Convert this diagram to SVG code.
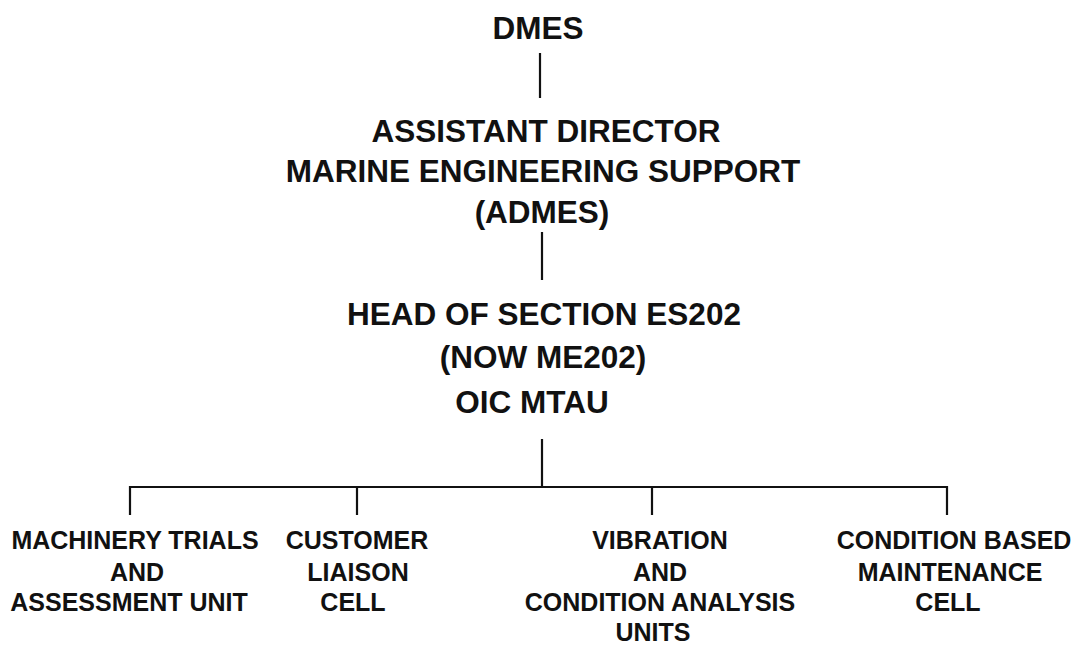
<svg xmlns="http://www.w3.org/2000/svg" width="1085" height="648" viewBox="0 0 1085 648">
<style>
.t{font-family:"Liberation Sans",Arial,sans-serif;font-weight:bold;fill:#111;text-anchor:middle}
.top{font-size:31.5px}
.bot{font-size:25px}
.c{stroke:#111;stroke-width:2.2;fill:none}
</style>
<rect width="1085" height="648" fill="#fff"/>
<g id="connectors">
<line class="c" x1="540" y1="53" x2="540" y2="98"/>
<line class="c" x1="542" y1="232" x2="542" y2="280"/>
<line class="c" x1="542" y1="439" x2="542" y2="487"/>
<polyline class="c" points="130,515 130,487 947,487 947,515"/>
<line class="c" x1="357" y1="487" x2="357" y2="515"/>
<line class="c" x1="652" y1="487" x2="652" y2="515"/>
</g>
<g id="dmes"><text class="t top" x="538" y="39">DMES</text></g>
<g id="admes">
<text class="t top" x="546" y="142">ASSISTANT DIRECTOR</text>
<text class="t top" x="543" y="182">MARINE ENGINEERING SUPPORT</text>
<text class="t top" x="542" y="223">(ADMES)</text>
</g>
<g id="head">
<text class="t top" x="544" y="325">HEAD OF SECTION ES202</text>
<text class="t top" x="543" y="368">(NOW ME202)</text>
<text class="t top" x="532" y="413">OIC MTAU</text>
</g>
<g id="mtau">
<text class="t bot" x="135" y="549">MACHINERY TRIALS</text>
<text class="t bot" x="137" y="581">AND</text>
<text class="t bot" x="129" y="611">ASSESSMENT UNIT</text>
</g>
<g id="clc">
<text class="t bot" x="357" y="549">CUSTOMER</text>
<text class="t bot" x="358" y="581">LIAISON</text>
<text class="t bot" x="353" y="611">CELL</text>
</g>
<g id="vca">
<text class="t bot" x="660" y="549">VIBRATION</text>
<text class="t bot" x="660" y="581">AND</text>
<text class="t bot" x="660" y="611">CONDITION ANALYSIS</text>
<text class="t bot" x="653" y="641">UNITS</text>
</g>
<g id="cbm">
<text class="t bot" x="954" y="549">CONDITION BASED</text>
<text class="t bot" x="950" y="581">MAINTENANCE</text>
<text class="t bot" x="948" y="611">CELL</text>
</g>
</svg>
